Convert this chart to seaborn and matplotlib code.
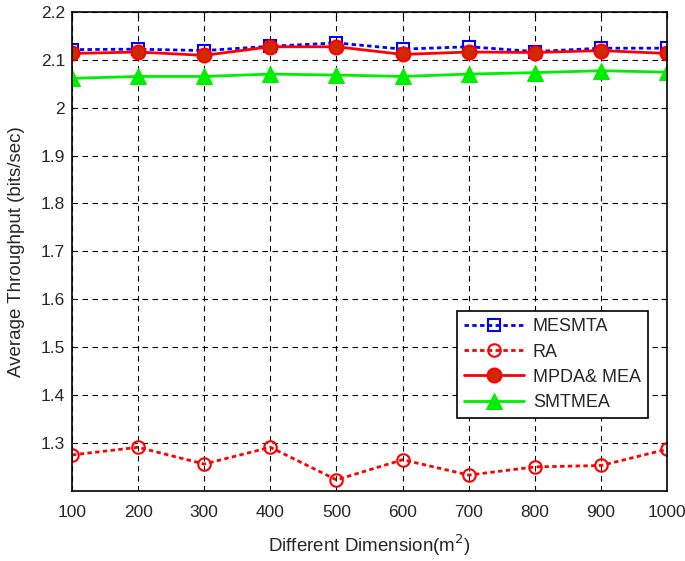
import matplotlib
matplotlib.use("Agg")
import matplotlib.pyplot as plt
import seaborn as sns

dims = [100, 200, 300, 400, 500, 600, 700, 800, 900, 1000]
mesmta = [2.121, 2.122, 2.119, 2.128, 2.135, 2.122, 2.127, 2.117, 2.124, 2.124]
ra = [1.275, 1.291, 1.256, 1.291, 1.223, 1.265, 1.233, 1.250, 1.253, 1.287]
mpda_mea = [2.113, 2.116, 2.109, 2.127, 2.127, 2.111, 2.116, 2.115, 2.119, 2.113]
smtmea = [2.061, 2.065, 2.065, 2.070, 2.068, 2.065, 2.070, 2.073, 2.077, 2.074]

sns.set_style("white")
plt.rcParams['font.family'] = ['Liberation Sans', 'DejaVu Sans']

fig = plt.figure(figsize=(6.85, 5.61), dpi=100)
ax = fig.add_axes([0.105, 0.125, 0.869, 0.854])

dotted = (0, (1.6, 1.2))
sns.lineplot(x=dims, y=mesmta, ax=ax, color='blue', linestyle=dotted, linewidth=2,
             marker='s', markersize=9, markerfacecolor='none', markeredgecolor='blue',
             markeredgewidth=1.5, label='MESMTA')
sns.lineplot(x=dims, y=ra, ax=ax, color='red', linestyle=dotted, linewidth=2,
             marker='o', markersize=9, markerfacecolor='none', markeredgecolor='red',
             markeredgewidth=1.5, label='RA')
sns.lineplot(x=dims, y=mpda_mea, ax=ax, color='red', linestyle='-', linewidth=2,
             marker='o', markersize=10, markerfacecolor='#cc2a00', markeredgecolor='red',
             markeredgewidth=1.5, label='MPDA& MEA')
sns.lineplot(x=dims, y=smtmea, ax=ax, color='#00ee00', linestyle='-', linewidth=2,
             marker='^', markersize=11, markerfacecolor='#00ee00', markeredgecolor='#00ee00',
             label='SMTMEA')

ax.set_xlim(100, 1000)
ax.set_ylim(1.2, 2.2)
ax.set_xticks(dims)
ax.set_yticks([1.3, 1.4, 1.5, 1.6, 1.7, 1.8, 1.9, 2.0, 2.1, 2.2])
ax.set_yticklabels(['1.3', '1.4', '1.5', '1.6', '1.7', '1.8', '1.9', '2', '2.1', '2.2'])
ax.tick_params(direction='in', labelsize=12.5, length=4, color='black',
               top=True, right=True)
ax.tick_params(axis='x', pad=10)
ax.tick_params(axis='y', pad=5)
ax.grid(True, color='black', linestyle=(0, (5, 4)), linewidth=0.8)
for s in ax.spines.values():
    s.set_color('black')
    s.set_linewidth(1.2)

ax.set_xlabel('Different Dimension(m$^2$)', fontsize=13.5, labelpad=9)
ax.set_ylabel('Average Throughput (bits/sec)', fontsize=13.5, labelpad=11)

leg = ax.legend(loc='lower right', bbox_to_anchor=(0.968, 0.152), borderaxespad=0,
                fontsize=13, fancybox=False, framealpha=1, edgecolor='black',
                handlelength=3.3, borderpad=0.4, labelspacing=0.45, handletextpad=0.5)
leg.get_frame().set_linewidth(1.2)

fig.savefig('out.png', dpi=100)
